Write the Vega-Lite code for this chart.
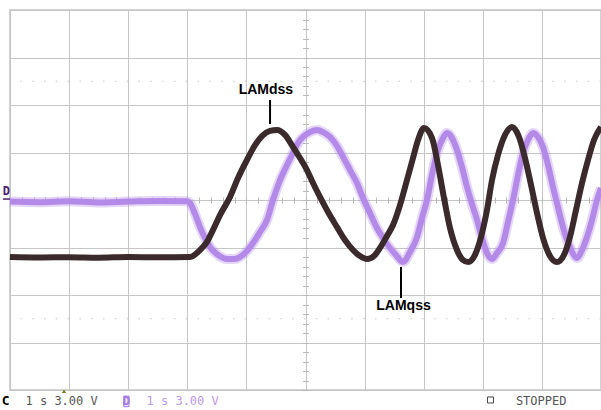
{
  "$schema": "https://vega.github.io/schema/vega-lite/v6.json",
  "width": 591,
  "height": 380,
  "padding": {"left": 10, "top": 10, "right": 0, "bottom": 20},
  "autosize": {"type": "none"},
  "background": "white",
  "config": {"view": {"stroke": "#d2d2d2", "strokeWidth": 2}},
  "datasets": {
    "traces": [
      {"ch": "C", "t": 0.0, "v": -3.60}, {"ch": "C", "t": 0.5, "v": -3.63}, {"ch": "C", "t": 1.0, "v": -3.61},
      {"ch": "C", "t": 1.5, "v": -3.64}, {"ch": "C", "t": 2.0, "v": -3.60}, {"ch": "C", "t": 2.5, "v": -3.62},
      {"ch": "C", "t": 3.046, "v": -3.60}, {"ch": "C", "t": 3.215, "v": -3.16}, {"ch": "C", "t": 3.333, "v": -2.65},
      {"ch": "C", "t": 3.435, "v": -1.89}, {"ch": "C", "t": 3.553, "v": -0.95}, {"ch": "C", "t": 3.723, "v": 0.19},
      {"ch": "C", "t": 3.858, "v": 1.39}, {"ch": "C", "t": 4.010, "v": 2.53}, {"ch": "C", "t": 4.146, "v": 3.47},
      {"ch": "C", "t": 4.264, "v": 4.04}, {"ch": "C", "t": 4.399, "v": 4.36}, {"ch": "C", "t": 4.518, "v": 4.42},
      {"ch": "C", "t": 4.653, "v": 4.11}, {"ch": "C", "t": 4.788, "v": 3.35}, {"ch": "C", "t": 4.907, "v": 2.65},
      {"ch": "C", "t": 5.025, "v": 1.89}, {"ch": "C", "t": 5.127, "v": 1.07}, {"ch": "C", "t": 5.245, "v": 0.19},
      {"ch": "C", "t": 5.381, "v": -0.76}, {"ch": "C", "t": 5.533, "v": -1.71}, {"ch": "C", "t": 5.668, "v": -2.53},
      {"ch": "C", "t": 5.804, "v": -3.16}, {"ch": "C", "t": 5.922, "v": -3.54}, {"ch": "C", "t": 6.041, "v": -3.73},
      {"ch": "C", "t": 6.159, "v": -3.54}, {"ch": "C", "t": 6.261, "v": -3.03}, {"ch": "C", "t": 6.379, "v": -2.27},
      {"ch": "C", "t": 6.481, "v": -1.58}, {"ch": "C", "t": 6.599, "v": -0.32}, {"ch": "C", "t": 6.717, "v": 1.26},
      {"ch": "C", "t": 6.819, "v": 2.65}, {"ch": "C", "t": 6.904, "v": 3.79}, {"ch": "C", "t": 7.005, "v": 4.55},
      {"ch": "C", "t": 7.140, "v": 3.92}, {"ch": "C", "t": 7.242, "v": 2.21}, {"ch": "C", "t": 7.343, "v": 0.13},
      {"ch": "C", "t": 7.445, "v": -1.77}, {"ch": "C", "t": 7.563, "v": -3.16}, {"ch": "C", "t": 7.665, "v": -3.79},
      {"ch": "C", "t": 7.750, "v": -3.92}, {"ch": "C", "t": 7.868, "v": -3.47}, {"ch": "C", "t": 7.970, "v": -2.34},
      {"ch": "C", "t": 8.071, "v": -0.63}, {"ch": "C", "t": 8.156, "v": 1.26}, {"ch": "C", "t": 8.257, "v": 2.84},
      {"ch": "C", "t": 8.376, "v": 4.11}, {"ch": "C", "t": 8.494, "v": 4.61}, {"ch": "C", "t": 8.613, "v": 3.98},
      {"ch": "C", "t": 8.714, "v": 2.65}, {"ch": "C", "t": 8.816, "v": 0.95}, {"ch": "C", "t": 8.917, "v": -0.82},
      {"ch": "C", "t": 9.019, "v": -2.40}, {"ch": "C", "t": 9.137, "v": -3.54}, {"ch": "C", "t": 9.255, "v": -3.92},
      {"ch": "C", "t": 9.374, "v": -3.47}, {"ch": "C", "t": 9.475, "v": -2.34}, {"ch": "C", "t": 9.577, "v": -0.63},
      {"ch": "C", "t": 9.679, "v": 1.07}, {"ch": "C", "t": 9.780, "v": 2.53}, {"ch": "C", "t": 9.882, "v": 3.79},
      {"ch": "C", "t": 10.0, "v": 4.61},

      {"ch": "D", "t": 0.0, "v": -0.10}, {"ch": "D", "t": 0.5, "v": -0.14}, {"ch": "D", "t": 1.0, "v": -0.08},
      {"ch": "D", "t": 1.5, "v": -0.15}, {"ch": "D", "t": 2.0, "v": -0.10}, {"ch": "D", "t": 2.5, "v": -0.06},
      {"ch": "D", "t": 2.995, "v": -0.08}, {"ch": "D", "t": 3.046, "v": -0.19}, {"ch": "D", "t": 3.130, "v": -0.88},
      {"ch": "D", "t": 3.215, "v": -1.71}, {"ch": "D", "t": 3.299, "v": -2.40}, {"ch": "D", "t": 3.384, "v": -2.97},
      {"ch": "D", "t": 3.519, "v": -3.47}, {"ch": "D", "t": 3.672, "v": -3.73}, {"ch": "D", "t": 3.807, "v": -3.73},
      {"ch": "D", "t": 3.892, "v": -3.60}, {"ch": "D", "t": 4.010, "v": -3.22}, {"ch": "D", "t": 4.112, "v": -2.72},
      {"ch": "D", "t": 4.230, "v": -2.02}, {"ch": "D", "t": 4.349, "v": -1.26}, {"ch": "D", "t": 4.450, "v": 0.00},
      {"ch": "D", "t": 4.569, "v": 1.26}, {"ch": "D", "t": 4.687, "v": 2.21}, {"ch": "D", "t": 4.788, "v": 2.97},
      {"ch": "D", "t": 4.873, "v": 3.60}, {"ch": "D", "t": 4.958, "v": 3.98}, {"ch": "D", "t": 5.076, "v": 4.29},
      {"ch": "D", "t": 5.195, "v": 4.42}, {"ch": "D", "t": 5.296, "v": 4.29}, {"ch": "D", "t": 5.415, "v": 3.98},
      {"ch": "D", "t": 5.533, "v": 3.41}, {"ch": "D", "t": 5.635, "v": 2.72}, {"ch": "D", "t": 5.753, "v": 1.89},
      {"ch": "D", "t": 5.871, "v": 1.07}, {"ch": "D", "t": 5.973, "v": 0.13}, {"ch": "D", "t": 6.091, "v": -0.82},
      {"ch": "D", "t": 6.210, "v": -1.77}, {"ch": "D", "t": 6.311, "v": -2.40}, {"ch": "D", "t": 6.430, "v": -3.03},
      {"ch": "D", "t": 6.531, "v": -3.47}, {"ch": "D", "t": 6.650, "v": -3.92}, {"ch": "D", "t": 6.768, "v": -3.28},
      {"ch": "D", "t": 6.887, "v": -2.34}, {"ch": "D", "t": 6.971, "v": -1.14}, {"ch": "D", "t": 7.056, "v": 0.00},
      {"ch": "D", "t": 7.140, "v": 1.58}, {"ch": "D", "t": 7.225, "v": 2.97}, {"ch": "D", "t": 7.310, "v": 3.79},
      {"ch": "D", "t": 7.394, "v": 4.23}, {"ch": "D", "t": 7.479, "v": 3.92}, {"ch": "D", "t": 7.563, "v": 3.16},
      {"ch": "D", "t": 7.648, "v": 2.08}, {"ch": "D", "t": 7.733, "v": 0.82}, {"ch": "D", "t": 7.817, "v": -0.25},
      {"ch": "D", "t": 7.902, "v": -1.26}, {"ch": "D", "t": 7.986, "v": -2.40}, {"ch": "D", "t": 8.071, "v": -3.35},
      {"ch": "D", "t": 8.156, "v": -3.73}, {"ch": "D", "t": 8.240, "v": -3.35}, {"ch": "D", "t": 8.342, "v": -2.72},
      {"ch": "D", "t": 8.426, "v": -1.39}, {"ch": "D", "t": 8.511, "v": 0.00}, {"ch": "D", "t": 8.596, "v": 1.58},
      {"ch": "D", "t": 8.680, "v": 2.97}, {"ch": "D", "t": 8.765, "v": 3.79}, {"ch": "D", "t": 8.849, "v": 4.23},
      {"ch": "D", "t": 8.934, "v": 3.98}, {"ch": "D", "t": 9.019, "v": 3.35}, {"ch": "D", "t": 9.103, "v": 2.21},
      {"ch": "D", "t": 9.188, "v": 0.82}, {"ch": "D", "t": 9.272, "v": -0.44}, {"ch": "D", "t": 9.357, "v": -1.71},
      {"ch": "D", "t": 9.475, "v": -2.97}, {"ch": "D", "t": 9.594, "v": -3.66}, {"ch": "D", "t": 9.679, "v": -3.16},
      {"ch": "D", "t": 9.763, "v": -2.34}, {"ch": "D", "t": 9.848, "v": -1.26}, {"ch": "D", "t": 9.932, "v": 0.00},
      {"ch": "D", "t": 10.0, "v": 0.76}
    ]
  },
  "resolve": {"axis": {"x": "independent", "y": "independent"}},
  "layer": [
    {
      "data": {"values": [{"v": 7.5}, {"v": -7.5}]},
      "mark": {"type": "rule", "color": "#c4c4c4", "strokeWidth": 1, "strokeDash": [1.5, 10.32]},
      "encoding": {
        "y": {"field": "v", "type": "quantitative", "scale": {"domain": [-12, 12], "nice": false, "zero": false}, "axis": null}
      }
    },
    {
      "data": {"name": "traces"},
      "transform": [{"filter": "datum.ch === 'D'"}],
      "mark": {"type": "line", "color": "#b48ae9", "strokeWidth": 10, "opacity": 0.35, "interpolate": "monotone", "strokeJoin": "round"},
      "encoding": {
        "x": {"field": "t", "type": "quantitative", "scale": {"domain": [0, 10], "nice": false, "zero": false},
          "axis": {"orient": "bottom", "values": [0, 1, 2, 3, 4, 5, 6, 7, 8, 9, 10], "grid": true, "gridColor": "#c6c6c6", "gridWidth": 1,
            "domain": false, "ticks": false, "labels": false, "title": null}},
        "y": {"field": "v", "type": "quantitative", "scale": {"domain": [-12, 12], "nice": false, "zero": false},
          "axis": {"orient": "left", "values": [-12, -9, -6, -3, 0, 3, 6, 9, 12], "grid": true, "gridColor": "#c6c6c6", "gridWidth": 1,
            "domain": false, "ticks": false, "labels": false, "title": null}}
      }
    },
    {
      "data": {"name": "traces"},
      "transform": [{"filter": "datum.ch === 'D'"}],
      "mark": {"type": "line", "color": "#b48ae9", "strokeWidth": 6, "interpolate": "monotone", "strokeJoin": "round"},
      "encoding": {
        "x": {"field": "t", "type": "quantitative", "scale": {"domain": [0, 10], "nice": false, "zero": false}, "axis": null},
        "y": {"field": "v", "type": "quantitative", "scale": {"domain": [-12, 12], "nice": false, "zero": false}, "axis": null}
      }
    },
    {
      "data": {"name": "traces"},
      "transform": [{"filter": "datum.ch === 'C'"}],
      "mark": {"type": "line", "color": "#3b2a2c", "strokeWidth": 6, "interpolate": "monotone", "strokeJoin": "round"},
      "encoding": {
        "x": {"field": "t", "type": "quantitative", "scale": {"domain": [0, 10], "nice": false, "zero": false},
          "axis": {"orient": "top", "offset": -193, "values": [0, 0.2, 0.4, 0.6, 0.8, 1, 1.2, 1.4, 1.6, 1.8, 2, 2.2, 2.4, 2.6, 2.8, 3, 3.2, 3.4, 3.6, 3.8, 4, 4.2, 4.4, 4.6, 4.8, 5, 5.2, 5.4, 5.6, 5.8, 6, 6.2, 6.4, 6.6, 6.8, 7, 7.2, 7.4, 7.6, 7.8, 8, 8.2, 8.4, 8.6, 8.8, 9, 9.2, 9.4, 9.6, 9.8, 10],
            "grid": false, "domain": false, "ticks": true, "tickSize": 6, "tickColor": "#b8b8b8", "tickWidth": 1, "labels": false, "title": null}},
        "y": {"field": "v", "type": "quantitative", "scale": {"domain": [-12, 12], "nice": false, "zero": false},
          "axis": {"orient": "right", "offset": -298.5, "values": [-12, -11.4, -10.8, -10.2, -9.6, -9, -8.4, -7.8, -7.2, -6.6, -6, -5.4, -4.8, -4.2, -3.6, -3, -2.4, -1.8, -1.2, -0.6, 0, 0.6, 1.2, 1.8, 2.4, 3, 3.6, 4.2, 4.8, 5.4, 6, 6.6, 7.2, 7.8, 8.4, 9, 9.6, 10.2, 10.8, 11.4, 12],
            "grid": false, "domain": false, "ticks": true, "tickSize": 6, "tickColor": "#b8b8b8", "tickWidth": 1, "labels": false, "title": null}}
      }
    },
    {
      "data": {"values": [{"t": 4.40, "v": 6.32, "v2": 4.80}, {"t": 6.616, "v": -4.23, "v2": -6.19}]},
      "mark": {"type": "rule", "color": "#000000", "strokeWidth": 2},
      "encoding": {
        "x": {"field": "t", "type": "quantitative", "scale": {"domain": [0, 10], "nice": false, "zero": false}, "axis": null},
        "y": {"field": "v", "type": "quantitative", "scale": {"domain": [-12, 12], "nice": false, "zero": false}, "axis": null},
        "y2": {"field": "v2"}
      }
    },
    {
      "data": {"values": [{"t": 4.33, "v": 6.92, "label": "LAMdss"}, {"t": 6.658, "v": -6.69, "label": "LAMqss"}]},
      "mark": {"type": "text", "font": "Liberation Sans", "fontWeight": "bold", "fontSize": 14, "color": "#000000", "align": "center", "baseline": "middle"},
      "encoding": {
        "x": {"field": "t", "type": "quantitative", "scale": {"domain": [0, 10], "nice": false, "zero": false}, "axis": null},
        "y": {"field": "v", "type": "quantitative", "scale": {"domain": [-12, 12], "nice": false, "zero": false}, "axis": null},
        "text": {"field": "label"}
      }
    },
    {
      "data": {"values": [{"t": -0.12, "t2": 0.0, "v": 0.06}]},
      "mark": {"type": "rule", "color": "#4a2372", "strokeWidth": 1.5},
      "encoding": {
        "x": {"field": "t", "type": "quantitative", "scale": {"domain": [0, 10], "nice": false, "zero": false}, "axis": null},
        "x2": {"field": "t2"},
        "y": {"field": "v", "type": "quantitative", "scale": {"domain": [-12, 12], "nice": false, "zero": false}, "axis": null}
      }
    },
    {
      "data": {"values": [{"t": -0.06, "v": 0.54, "label": "D"}]},
      "mark": {"type": "text", "font": "DejaVu Sans Mono", "fontWeight": "bold", "fontSize": 12, "color": "#4a2372", "align": "center", "baseline": "middle"},
      "encoding": {
        "x": {"field": "t", "type": "quantitative", "scale": {"domain": [0, 10], "nice": false, "zero": false}, "axis": null},
        "y": {"field": "v", "type": "quantitative", "scale": {"domain": [-12, 12], "nice": false, "zero": false}, "axis": null},
        "text": {"field": "label"}
      }
    },
    {
      "data": {"values": [{"t": -0.14, "v": -12.72, "label": "C"}]},
      "mark": {"type": "text", "font": "DejaVu Sans Mono", "fontWeight": "bold", "fontSize": 13, "color": "#000000", "align": "left", "baseline": "middle"},
      "encoding": {
        "x": {"field": "t", "type": "quantitative", "scale": {"domain": [0, 10], "nice": false, "zero": false}, "axis": null},
        "y": {"field": "v", "type": "quantitative", "scale": {"domain": [-12, 12], "nice": false, "zero": false}, "axis": null},
        "text": {"field": "label"}
      }
    },
    {
      "data": {"values": [{"t": 0.262, "v": -12.72, "label": "1 s 3.00 V"}, {"t": 8.56, "v": -12.72, "label": "STOPPED"}]},
      "mark": {"type": "text", "font": "DejaVu Sans Mono", "fontSize": 12, "color": "#555555", "align": "left", "baseline": "middle"},
      "encoding": {
        "x": {"field": "t", "type": "quantitative", "scale": {"domain": [0, 10], "nice": false, "zero": false}, "axis": null},
        "y": {"field": "v", "type": "quantitative", "scale": {"domain": [-12, 12], "nice": false, "zero": false}, "axis": null},
        "text": {"field": "label"}
      }
    },
    {
      "data": {"values": [{"t": 1.97, "v": -12.72}]},
      "mark": {"type": "point", "shape": "M-0.5,-1L0.5,-1L0.5,1L-0.5,1Z", "size": 110, "filled": true, "color": "#ece2fb", "stroke": "#a476e6", "strokeWidth": 1, "opacity": 1},
      "encoding": {
        "x": {"field": "t", "type": "quantitative", "scale": {"domain": [0, 10], "nice": false, "zero": false}, "axis": null},
        "y": {"field": "v", "type": "quantitative", "scale": {"domain": [-12, 12], "nice": false, "zero": false}, "axis": null}
      }
    },
    {
      "data": {"values": [{"t": 1.97, "v": -12.72, "label": "D"}]},
      "mark": {"type": "text", "font": "DejaVu Sans Mono", "fontWeight": "bold", "fontSize": 12, "color": "#a476e6", "align": "center", "baseline": "middle"},
      "encoding": {
        "x": {"field": "t", "type": "quantitative", "scale": {"domain": [0, 10], "nice": false, "zero": false}, "axis": null},
        "y": {"field": "v", "type": "quantitative", "scale": {"domain": [-12, 12], "nice": false, "zero": false}, "axis": null},
        "text": {"field": "label"}
      }
    },
    {
      "data": {"values": [{"t": 2.31, "v": -12.72, "label": "1 s 3.00 V"}]},
      "mark": {"type": "text", "font": "DejaVu Sans Mono", "fontSize": 12, "color": "#b99ae8", "align": "left", "baseline": "middle"},
      "encoding": {
        "x": {"field": "t", "type": "quantitative", "scale": {"domain": [0, 10], "nice": false, "zero": false}, "axis": null},
        "y": {"field": "v", "type": "quantitative", "scale": {"domain": [-12, 12], "nice": false, "zero": false}, "axis": null},
        "text": {"field": "label"}
      }
    },
    {
      "data": {"values": [{"t": 8.13, "v": -12.63}]},
      "mark": {"type": "point", "shape": "square", "size": 36, "filled": false, "color": "#444444", "strokeWidth": 1, "opacity": 1},
      "encoding": {
        "x": {"field": "t", "type": "quantitative", "scale": {"domain": [0, 10], "nice": false, "zero": false}, "axis": null},
        "y": {"field": "v", "type": "quantitative", "scale": {"domain": [-12, 12], "nice": false, "zero": false}, "axis": null}
      }
    },
    {
      "data": {"values": [{"t": 0.914, "v": -12.08}]},
      "mark": {"type": "point", "shape": "triangle-up", "size": 18, "filled": true, "color": "#7a7a22", "opacity": 1},
      "encoding": {
        "x": {"field": "t", "type": "quantitative", "scale": {"domain": [0, 10], "nice": false, "zero": false}, "axis": null},
        "y": {"field": "v", "type": "quantitative", "scale": {"domain": [-12, 12], "nice": false, "zero": false}, "axis": null}
      }
    }
  ]
}
